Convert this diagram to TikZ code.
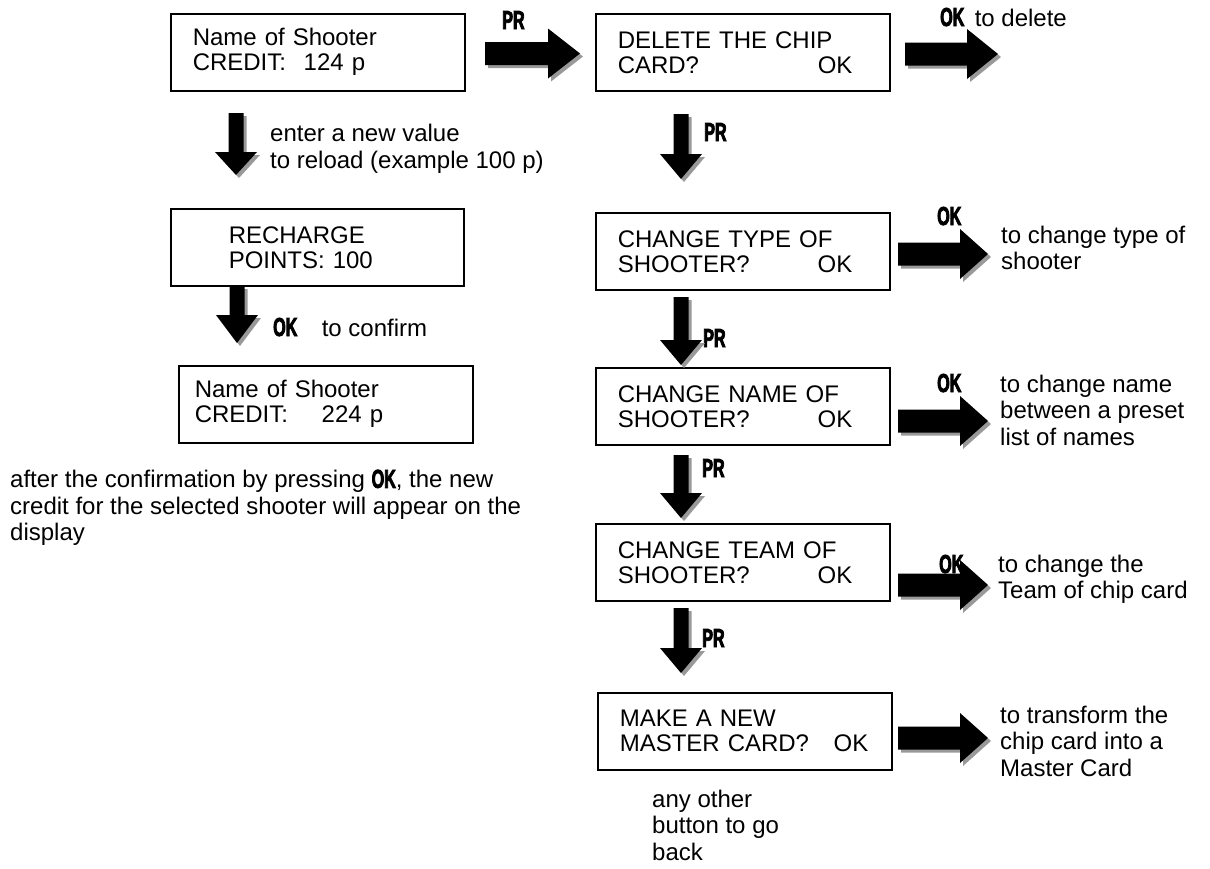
\documentclass[tikz,border=0pt]{standalone}
\usepackage{fontspec}
\setmainfont{Liberation Sans}
\newfontfamily\keyfont[FakeStretch=0.62,FakeBold=3]{Liberation Sans}
\usetikzlibrary{calc}
\usetikzlibrary{positioning}

\colorlet{arrowshade}{black!40}

% button names, narrow and heavy
\newcommand{\btn}[1]{{\keyfont\bfseries\fontsize{26}{25}\selectfont #1}}

% block arrow: tail centre, angle, length, head length, half shaft, half head
\newcommand{\blockarrow}[6]{%
    \foreach \off/\tone in {3/arrowshade, 0/black}
        \fill[\tone, shift={#1}, shift={(\off,\off)}, rotate=#2]
            (0,-#5) -- (#3-#4,-#5) -- (#3-#4,-#6) -- (#3,0)
            -- (#3-#4,#6) -- (#3-#4,#5) -- (0,#5) -- cycle;
}

\begin{document}
\begin{tikzpicture}[x=1pt, y=-1pt,
    font=\fontsize{24}{25}\selectfont,
    screen/.style={draw, line width=1.5pt, anchor=north west, align=left,
        minimum height=77pt, inner xsep=22pt, text width=250pt},
    keylabel/.style={anchor=base west, inner sep=0pt,
        font=\fontsize{26}{25}\selectfont\keyfont\bfseries},
    note/.style={anchor=north west, align=left, inner sep=0pt,
        font=\fontsize{24}{26.5}\selectfont}]

    \useasboundingbox (0,0) rectangle (1210,868);

    % Recharge
    \node[screen] (credit) at (170,13) {Name of Shooter\\\makebox[111pt][l]{CREDIT:}124 p};
    \node[screen, inner xsep=58pt, text width=177pt] (recharge) at (170,208) {RECHARGE\\POINTS: 100};
    \node[screen, inner xsep=16pt, text width=262pt] (newcredit) at (178,365) {Name of Shooter\\\makebox[127pt][l]{CREDIT:}224 p};

    \node[note] (enternote) at (270,124) {enter a new value\\to reload (example 100 p)};
    \node[keylabel] (okconf) at (273,336) {OK};
    \node[note, base right=24pt of okconf] (confnote) {to confirm};
    \node[note] (shownote) at (10,469.5) {after the confirmation by pressing \btn{OK}, the new\\credit for the selected shooter will appear on the\\display};

    % Chip card menu
    \node[screen] (delete) at (595,13) {DELETE THE CHIP\\\makebox[200pt][l]{CARD?}OK};
    \node[screen] (type) at (595,212) {CHANGE TYPE OF\\\makebox[200pt][l]{SHOOTER?}OK};
    \node[screen] (name) at (595,367) {CHANGE NAME OF\\\makebox[200pt][l]{SHOOTER?}OK};
    \node[screen] (team) at (595,523) {CHANGE TEAM OF\\\makebox[200pt][l]{SHOOTER?}OK};
    \node[screen] (master) at (597,692) {MAKE A NEW\\\makebox[214pt][l]{MASTER CARD?}OK};

    \node[keylabel] (prtop) at (502,29) {PR};
    \node[keylabel] (okdel) at (940,26) {OK};
    \node[note, base right=10pt of okdel] (delnote) {to delete};
    \node[keylabel] (pr1) at (704,141) {PR};
    \node[keylabel] (oktype) at (937,225) {OK};
    \node[keylabel] (pr2) at (703,347) {PR};
    \node[keylabel] (okname) at (937,392) {OK};
    \node[keylabel] (pr3) at (702,477) {PR};
    \node[keylabel] (okteam) at (939,573) {OK};
    \node[keylabel] (pr4) at (702,647) {PR};

    \node[note] (typenote) at (1001,225.5) {to change type of\\shooter};
    \node[note] (namenote) at (1000,374.5) {to change name\\between a preset\\list of names};
    \node[note] (teamnote) at (998,554.5) {to change the\\Team of chip card};
    \node[note] (masternote) at (1000,705.5) {to transform the\\chip card into a\\Master Card};
    \node[note] (backnote) at (652,789.5) {any other\\button to go\\back};

    % Arrows
    \blockarrow{(485,53.5)}{0}{95}{32}{11.5}{25}
    \blockarrow{(905,54)}{0}{93}{31}{11.5}{25}
    \foreach \ya in {254,421,585,738} {\blockarrow{(898,\ya)}{0}{90}{28}{11.5}{25}}
    \blockarrow{(236,113)}{-90}{62}{23}{7.5}{21}
    \blockarrow{(237,286)}{-90}{57}{28}{7.5}{21}
    \foreach \ya/\alen in {114/65, 297/68, 455/63, 608/65} {\blockarrow{(681,\ya)}{-90}{\alen}{25}{7.5}{21}}
\end{tikzpicture}
\end{document}
